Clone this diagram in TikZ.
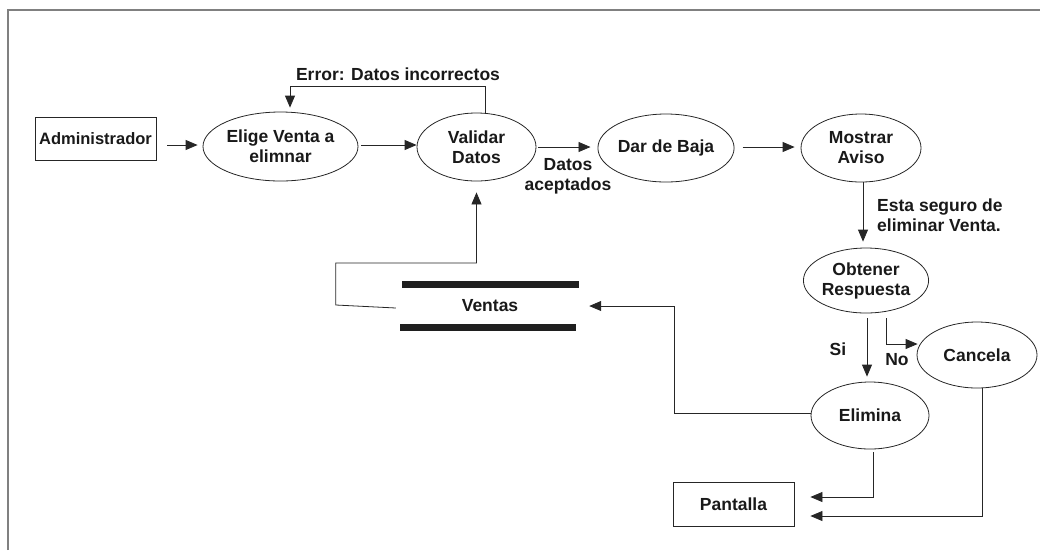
\documentclass[tikz,border=0pt]{standalone}
\usepackage{fontspec}
\setmainfont{Liberation Sans}
\usetikzlibrary{shapes.geometric,arrows.meta,calc}
\tikzset{
  txt/.style={font=\fontsize{17.5}{20}\selectfont\bfseries, text=black!90, align=center, inner sep=0pt},
  proc/.style={ellipse, draw=black!85, line width=0.8pt, txt},
  ext/.style={rectangle, draw=black!85, line width=0.8pt, txt},
  arr/.style={draw=black!85, line width=0.8pt, -{Triangle[length=12pt,width=10pt]}},
  bar/.style={fill=black!88, draw=none},
  frame/.style={draw=black!50, line width=2pt}
}
\begin{document}
\begin{tikzpicture}[x=1pt,y=-1pt]
\useasboundingbox (0,0) rectangle (1040,550);
\draw[frame] (8,550) -- (8,9.5) -- (1040,9.5);

\node[ext, minimum width=121pt, minimum height=43pt, font=\fontsize{16.5}{20}\selectfont\bfseries] (adm) at (95.5,138.5) {Administrador};
\node[proc, minimum width=155pt, minimum height=69pt] (elige) at (280.5,146.5) {Elige Venta a\\elimnar};
\node[proc, minimum width=119pt, minimum height=68pt] (valid) at (476.5,147) {Validar\\Datos};
\node[proc, minimum width=118pt, minimum height=68pt] (baja) at (666,148) {Dar de Baja};
\node[proc, minimum width=120pt, minimum height=68pt] (aviso) at (861,148) {Mostrar\\Aviso};
\node[proc, minimum width=118pt, minimum height=65pt] (obt) at (866,280.5) {Obtener\\Respuesta};
\node[proc, minimum width=120pt, minimum height=66pt] (cancela) at (977,355) {Cancela};
\node[proc, minimum width=118pt, minimum height=67pt] (elim) at (870,415.5) {Elimina};
\node[ext, minimum width=121pt, minimum height=44pt] (pant) at (733.5,504) {Pantalla};

\node[txt, minimum width=196pt, minimum height=50pt] (ventas) at (490,306) {Ventas};
\fill[bar] (402,281) rectangle (579,288);
\fill[bar] (400,324) rectangle (576,331);

% connectors
\draw[arr] ($(adm.east |- elige.west)+(11,-1.5)$) -- ($(elige.west)+(-5,-1.5)$);
\draw[arr] ($(elige.east)+(3,-1.5)$) -- ($(valid.west)+(0,-2)$);
\draw[arr] ($(valid.north)+(8.5,0)$) -- ++(0,-26) -| ($(elige.north)+(9.5,-4)$);
\node[txt] (errl) at (398,74) {Error: Datos incorrectos};
\draw[arr] ($(valid.east)+(2,0)$) -- ($(baja.west)+(-7,-1)$);
\node[txt] (dacep) at (568,176) {Datos\\aceptados};
\draw[arr] ($(baja.east)+(8,-1)$) -- ($(aviso.west)+(-6,-1)$);
\draw[arr] ($(aviso.south)+(2,0)$) -- ($(obt.north)+(-3,-6)$);
\node[txt, align=left, anchor=west] (seg) at (877,215) {Esta seguro de\\eliminar Venta.};
\draw[arr] ($(obt.south)+(1,5)$) -- ($(elim.north)+(-3,-5)$);
\node[txt] (si) at (838,349) {Si};
\draw[arr] ($(obt.south)+(20,5)$) |- ($(cancela.west)+(1,-11)$);
\node[txt] (no) at (897,360) {No};
\draw[arr] ($(elim.west)+(0,-2.5)$) -| ($(ventas.east)+(86,0)$) -- ($(ventas.east)+(1,0)$);
\draw[arr] ($(ventas.west)+(4,2)$) -- ++(-60,-3) -- ++(0,-42) -| ($(valid.south)+(0,11)$);
\draw[arr] ($(elim.south)+(3,3)$) |- ($(pant.east)+(16,-7)$);
\draw[arr] ($(cancela.south)+(5,0)$) |- ($(pant.east)+(16,12)$);
\end{tikzpicture}
\end{document}
